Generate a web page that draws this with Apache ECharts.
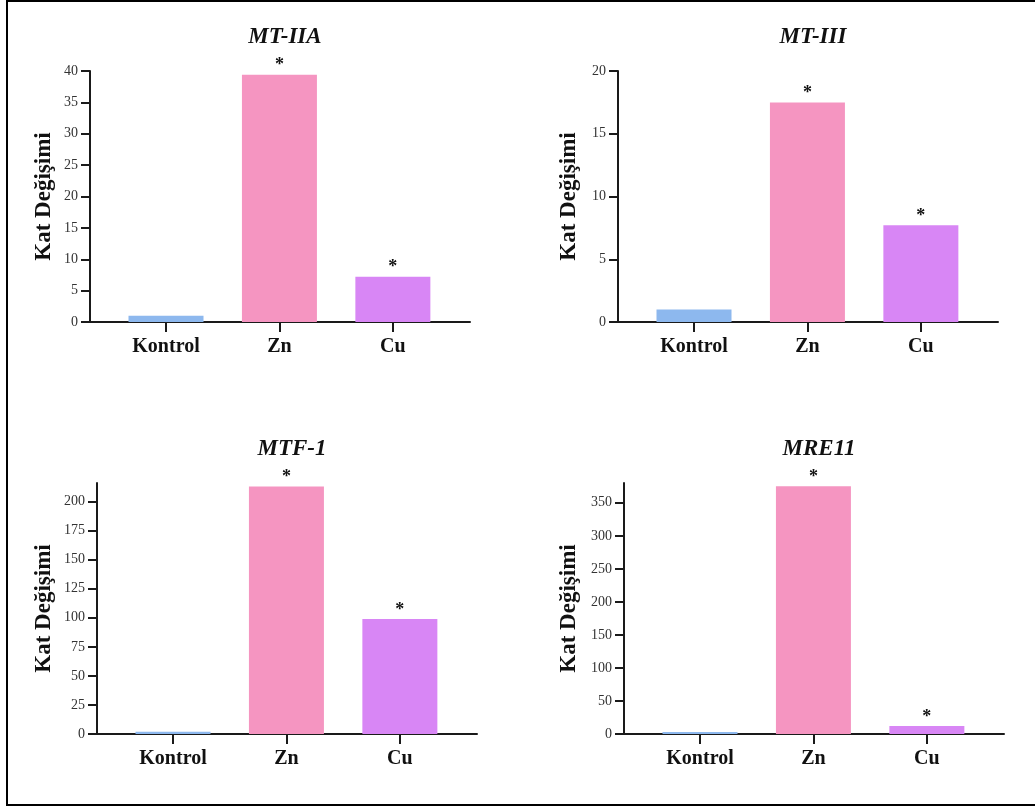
<!DOCTYPE html>
<html>
<head>
<meta charset="utf-8">
<script src="https://cdn.jsdelivr.net/npm/echarts@6/dist/echarts.min.js"></script>
<style>
  body { margin: 0; background: #fff; }
  #chart { width: 1035px; height: 807px; position: absolute; left: 0; top: 0; }
  #frame { position: absolute; left: 6px; top: 0; width: 1100px; height: 806px;
           border: 2px solid #000; box-sizing: border-box; pointer-events: none; }
</style>
</head>
<body>
<div id="chart"></div>
<div id="frame"></div>
<script>
var categories = ['Kontrol', 'Zn', 'Cu'];
var stars = ['', '*', '*'];
var titles = ['MT-IIA', 'MT-III', 'MTF-1', 'MRE11'];

var mt2aValues = [1.0, 39.4, 7.2];
var mt3Values = [1.0, 17.5, 7.7];
var mtf1Values = [2, 213, 99];
var mre11Values = [3, 375, 12];

var mt2aTicks = [0, 5, 10, 15, 20, 25, 30, 35, 40];
var mt3Ticks = [0, 5, 10, 15, 20];
var mtf1Ticks = [0, 25, 50, 75, 100, 125, 150, 175, 200];
var mre11Ticks = [0, 50, 100, 150, 200, 250, 300, 350];
var yMax = [40, 20, 216, 380];

var barColors = ['#8db8ee', '#f595c1', '#d886f5'];
var allValues = [mt2aValues, mt3Values, mtf1Values, mre11Values];
var allTicks = [mt2aTicks, mt3Ticks, mtf1Ticks, mre11Ticks];

// plot areas: [left, top], and gap of the y name per panel
var boxes = [[90, 71], [618, 71], [97, 483], [624, 483]];
var nameGaps = [34, 37, 41, 43];
var W = 380, H = 251;

var serif = '"Liberation Serif", "DejaVu Serif", serif';
var axisColor = '#1a1a1a';

var grids = [], xAxes = [], yAxes = [], series = [], titleList = [];
for (var k = 0; k < 4; k++) {
	grids.push({left: boxes[k][0], top: boxes[k][1], width: W, height: H});
	titleList.push({
		text: titles[k],
		left: boxes[k][0] + W / 2,
		top: boxes[k][1] - 50,
		textAlign: 'center',
		textStyle: {fontFamily: serif, fontStyle: 'italic', fontWeight: 'bold', fontSize: 23, color: '#111'}
	});
	xAxes.push({
		type: 'value',
		gridIndex: k,
		min: -0.67,
		max: 2.68,
		splitLine: {show: false},
		axisLine: {onZero: false, lineStyle: {color: axisColor, width: 2}},
		axisTick: {customValues: [0, 1, 2], length: 10, lineStyle: {color: axisColor, width: 2}},
		axisLabel: {
			customValues: [0, 1, 2],
			margin: 15,
			fontFamily: serif, fontWeight: 'bold', fontSize: 20, color: '#111',
			formatter: function (v) { return categories[Math.round(v)]; }
		}
	});
	yAxes.push({
		type: 'value',
		gridIndex: k,
		min: 0,
		max: yMax[k],
		name: 'Kat Değişimi',
		nameLocation: 'middle',
		nameGap: nameGaps[k],
		nameTextStyle: {fontFamily: serif, fontWeight: 'bold', fontSize: 23, color: '#111'},
		splitLine: {show: false},
		axisLine: {show: true, onZero: false, lineStyle: {color: axisColor, width: 2}},
		axisTick: {show: true, customValues: allTicks[k], length: 9, lineStyle: {color: axisColor, width: 2}},
		axisLabel: {customValues: allTicks[k], margin: 12, fontFamily: serif, fontSize: 14, color: '#333'}
	});
	var vals = allValues[k];
	series.push({
		type: 'bar',
		xAxisIndex: k,
		yAxisIndex: k,
		barWidth: 75,
		animation: false,
		data: categories.map(function (c, i) {
			return {
				value: [i, vals[i]],
				itemStyle: {color: barColors[i]},
				label: {show: stars[i] !== ''}
			};
		}),
		label: {
			position: 'top',
			distance: 0,
			fontFamily: serif,
			fontWeight: 'bold',
			fontSize: 18,
			color: '#111',
			formatter: function (p) { return stars[p.dataIndex]; }
		}
	});
}

var myChart = echarts.init(document.getElementById('chart'));
myChart.setOption({
	backgroundColor: '#fff',
	animation: false,
	title: titleList,
	grid: grids,
	xAxis: xAxes,
	yAxis: yAxes,
	series: series
});
</script>
</body>
</html>
